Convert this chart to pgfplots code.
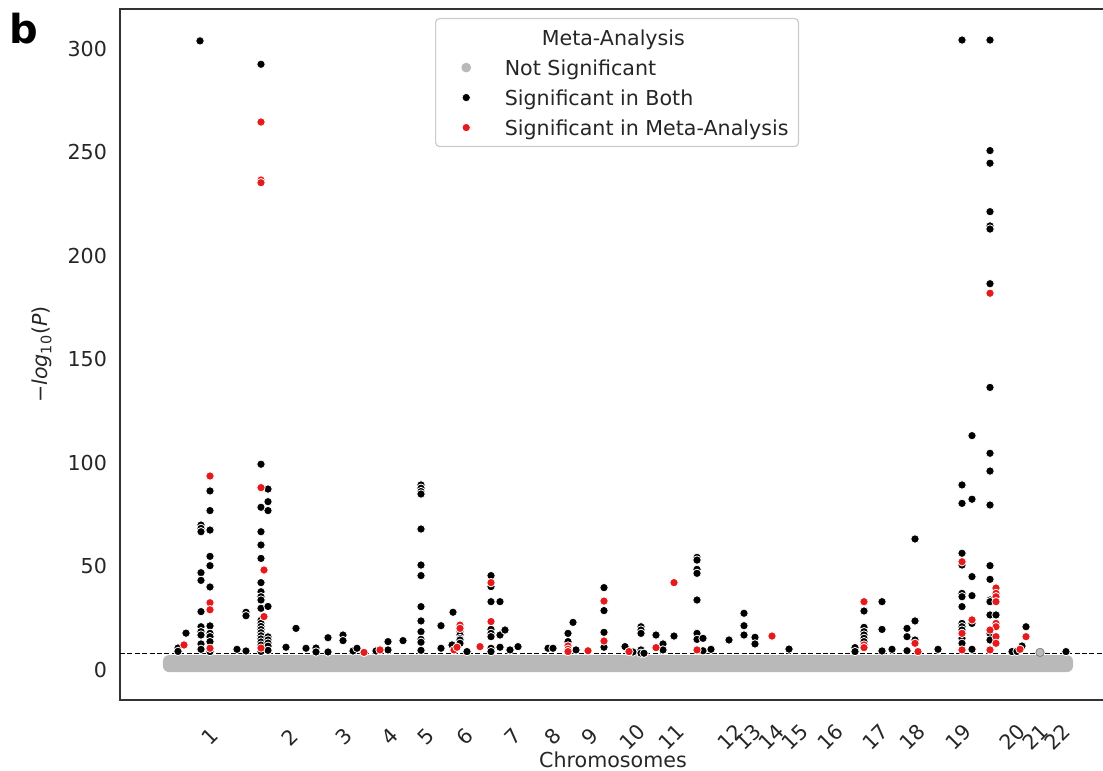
\documentclass[border=0pt]{standalone}
\usepackage{pgfplots}
\usepackage{pgfplotstable}
\usepackage{fontspec}
\setmainfont{DejaVu Sans}
\pgfplotsset{compat=1.18}

\definecolor{sigred}{RGB}{228,26,28}
\definecolor{nsgray}{RGB}{185,185,185}
\definecolor{txt}{RGB}{38,38,38}

% x = position along the genome (cumulative, plot units), y = -log10(P)
\pgfplotstableread{
x y
178 10.6
178 9.0
186 17.8
200 303.9
201 70.0
201 68.4
201 66.8
201 47.0
201 43.3
201 28.2
201 20.9
201 18.5
201 16.9
201 12.6
201 10.0
210 86.5
210 77.0
210 67.6
210 54.9
210 50.4
210 40.1
210 21.3
210 17.7
210 16.1
210 13.7
210 8.9
237 10.0
246 27.9
246 26.2
246 9.2
261 292.6
261 99.4
261 78.6
261 66.8
261 60.4
261 53.9
261 42.2
261 37.8
261 35.4
261 33.8
261 29.8
261 24.0
261 22.5
261 21.0
261 19.5
261 18.0
261 16.5
261 15.0
261 13.5
261 12.0
261 9.0
268 87.4
268 81.3
268 77.0
268 30.7
268 16.0
268 14.5
268 13.0
268 11.5
268 9.5
286 11.0
296 20.1
306 10.5
316 10.6
316 8.7
328 15.6
328 8.7
343 16.9
343 14.2
353 9.2
357 10.5
376 9.2
388 13.7
388 9.7
403 14.2
421 89.4
421 87.8
421 86.2
421 85.0
421 68.1
421 50.7
421 45.6
421 30.6
421 23.7
421 18.5
421 14.8
421 13.4
421 9.5
441 21.4
441 10.5
452 12.1
453 27.9
460 18.5
460 16.9
460 15.2
460 14.5
460 12.9
467 8.9
491 45.6
491 40.3
491 33.0
491 19.6
491 17.7
491 16.1
491 10.5
491 8.9
500 33.0
500 16.9
500 11.0
505 19.3
510 9.7
518 11.3
548 10.5
553 10.5
568 17.7
568 13.7
573 23.0
576 9.7
604 39.8
604 28.7
604 18.2
604 11.0
625 11.3
633 8.7
641 20.9
641 19.3
641 17.7
641 9.7
641 8.1
644 8.1
656 16.9
663 12.6
663 9.7
674 16.4
697 54.4
697 53.1
697 48.6
697 46.7
697 33.8
697 17.7
697 14.8
703 15.3
703 9.3
711 10.0
729 14.5
744 27.4
744 21.4
744 16.9
755 15.8
755 12.6
789 10.1
855 10.8
855 8.9
864 28.5
864 20.6
864 18.5
864 16.9
864 15.3
864 13.7
882 33.0
882 19.6
882 9.2
892 10.0
907 20.1
907 16.1
907 9.3
915 63.3
915 23.7
915 14.5
938 10.0
962 304.3
962 89.4
962 80.5
962 56.4
962 50.7
962 37.0
962 35.4
962 30.6
962 22.5
962 20.9
962 19.3
962 15.3
962 12.9
972 113.2
972 82.5
972 45.1
972 35.9
972 22.5
972 10.0
990 304.3
990 250.9
990 244.8
990 221.4
990 214.5
990 213.0
990 186.6
990 136.5
990 104.7
990 96.1
990 79.7
990 50.4
990 43.8
990 33.8
990 33.0
990 26.6
996 26.6
990 17.7
990 14.5
1012 8.9
1017 9.0
1022 11.6
1026 20.9
1066 8.9
}\both

\pgfplotstableread{
x y
184 12.1
210 93.7
210 32.5
210 29.1
210 10.5
261 264.7
261 236.7
261 235.4
261 88.1
264 48.3
264 25.8
261 10.6
364 8.5
380 9.7
460 21.7
460 20.1
454 9.7
457 11.0
480 11.3
491 42.2
491 23.4
568 11.6
568 10.0
568 8.9
588 9.3
604 33.3
604 14.0
629 8.9
656 10.8
674 42.2
697 9.7
772 16.4
864 33.0
864 12.1
864 10.8
915 12.9
918 8.9
962 52.3
962 17.7
962 9.7
972 24.2
990 182.0
996 39.6
996 37.0
996 35.4
996 33.0
996 22.5
996 20.9
990 19.3
996 16.1
996 12.9
990 9.7
1026 16.1
1020 10.0
}\meta

\begin{document}
\begin{tikzpicture}
\begin{axis}[
    scale only axis,
    width=493pt, height=345.5pt,
    xmin=120, xmax=1106,
    ymin=-14.49, ymax=319.3,
    font=\fontsize{10.3}{12.4}\selectfont,
    /pgf/number format/assume math mode=true,
    axis line style={black!80, line width=1pt},
    major tick length=0pt,
    tick label style={color=txt},
    ytick={0,50,100,150,200,250,300},
    yticklabel style={xshift=-3pt},
    xtick={210,290,344,390,426,465,513,553,590,632,671,730,748,771,795,830,875,912,958,1012,1035,1057},
    xticklabels={1,2,3,4,5,6,7,8,9,10,11,12,13,14,15,16,17,18,19,20,21,22},
    xticklabel style={yshift=-18.5pt, rotate=45, anchor=center},
    every axis x label/.style={at={(axis description cs:0.5,0)}, yshift=-30pt, anchor=center, color=txt},
    every axis y label/.style={at={(axis description cs:0,0.5)}, xshift=-39pt, rotate=90, anchor=center, color=txt},
    xlabel={Chromosomes},
    ylabel={−\textit{log}\textsubscript{10}(\textit{P})},
    legend cell align=left,
    legend style={at={(rel axis cs:0.3195,0.987)}, anchor=north west,
        draw=black!20, rounded corners=2pt, line width=0.6pt, fill=white,
        inner xsep=0pt, inner ysep=2pt, row sep=0pt, column sep=0pt,
        text=txt,
        nodes={inner xsep=5pt, inner ysep=0pt, text height=11.25pt, text depth=3.75pt}},
    legend image code/.code={\path (-15pt,0pt) (14pt,0pt);
        \draw[mark=*, mark size=2.1pt, only marks] plot coordinates {(0pt,0pt)};},
]
% band of non-significant variants
\addplot[draw=none, fill=nsgray, rounded corners=3pt, forget plot]
    coordinates {(163,-1) (1073,-1) (1073,7.2) (163,7.2)} -- cycle;
\addplot[only marks, mark=*, mark size=2.1pt, color=nsgray,
    mark options={draw=nsgray!70!black, line width=0.4pt}, forget plot]
    coordinates {(1040,8.5)};
% significance threshold
\addplot[black, line width=0.5pt, dash pattern=on 2.5pt off 1.2pt, forget plot]
    coordinates {(120,8.1) (1106,8.1)};

\addlegendimage{empty legend}
\addlegendentry{\hspace*{18.5pt}Meta-Analysis}
\addlegendimage{only marks, mark=*, color=nsgray, mark options={draw=nsgray}}
\addlegendentry{Not Significant}

\addplot[only marks, mark=*, mark size=2.1pt, color=black,
    mark options={fill=black, draw=white, line width=0.4pt}] table[x=x, y=y] {\both};
\addlegendentry{Significant in Both}
\addplot[only marks, mark=*, mark size=2.1pt, color=sigred,
    mark options={fill=sigred, draw=white, line width=0.4pt}] table[x=x, y=y] {\meta};
\addlegendentry{Significant in Meta-Analysis}
\end{axis}
\node[font=\fontsize{20}{24}\selectfont\bfseries, anchor=center]
    at ([xshift=-48pt, yshift=-10pt]current axis.north west) {b};
\pgfresetboundingbox
\path ([xshift=-60pt, yshift=-35.5pt]current axis.south west)
    rectangle ([xshift=491.5pt, yshift=4.5pt]current axis.north west);
\end{tikzpicture}
\end{document}
